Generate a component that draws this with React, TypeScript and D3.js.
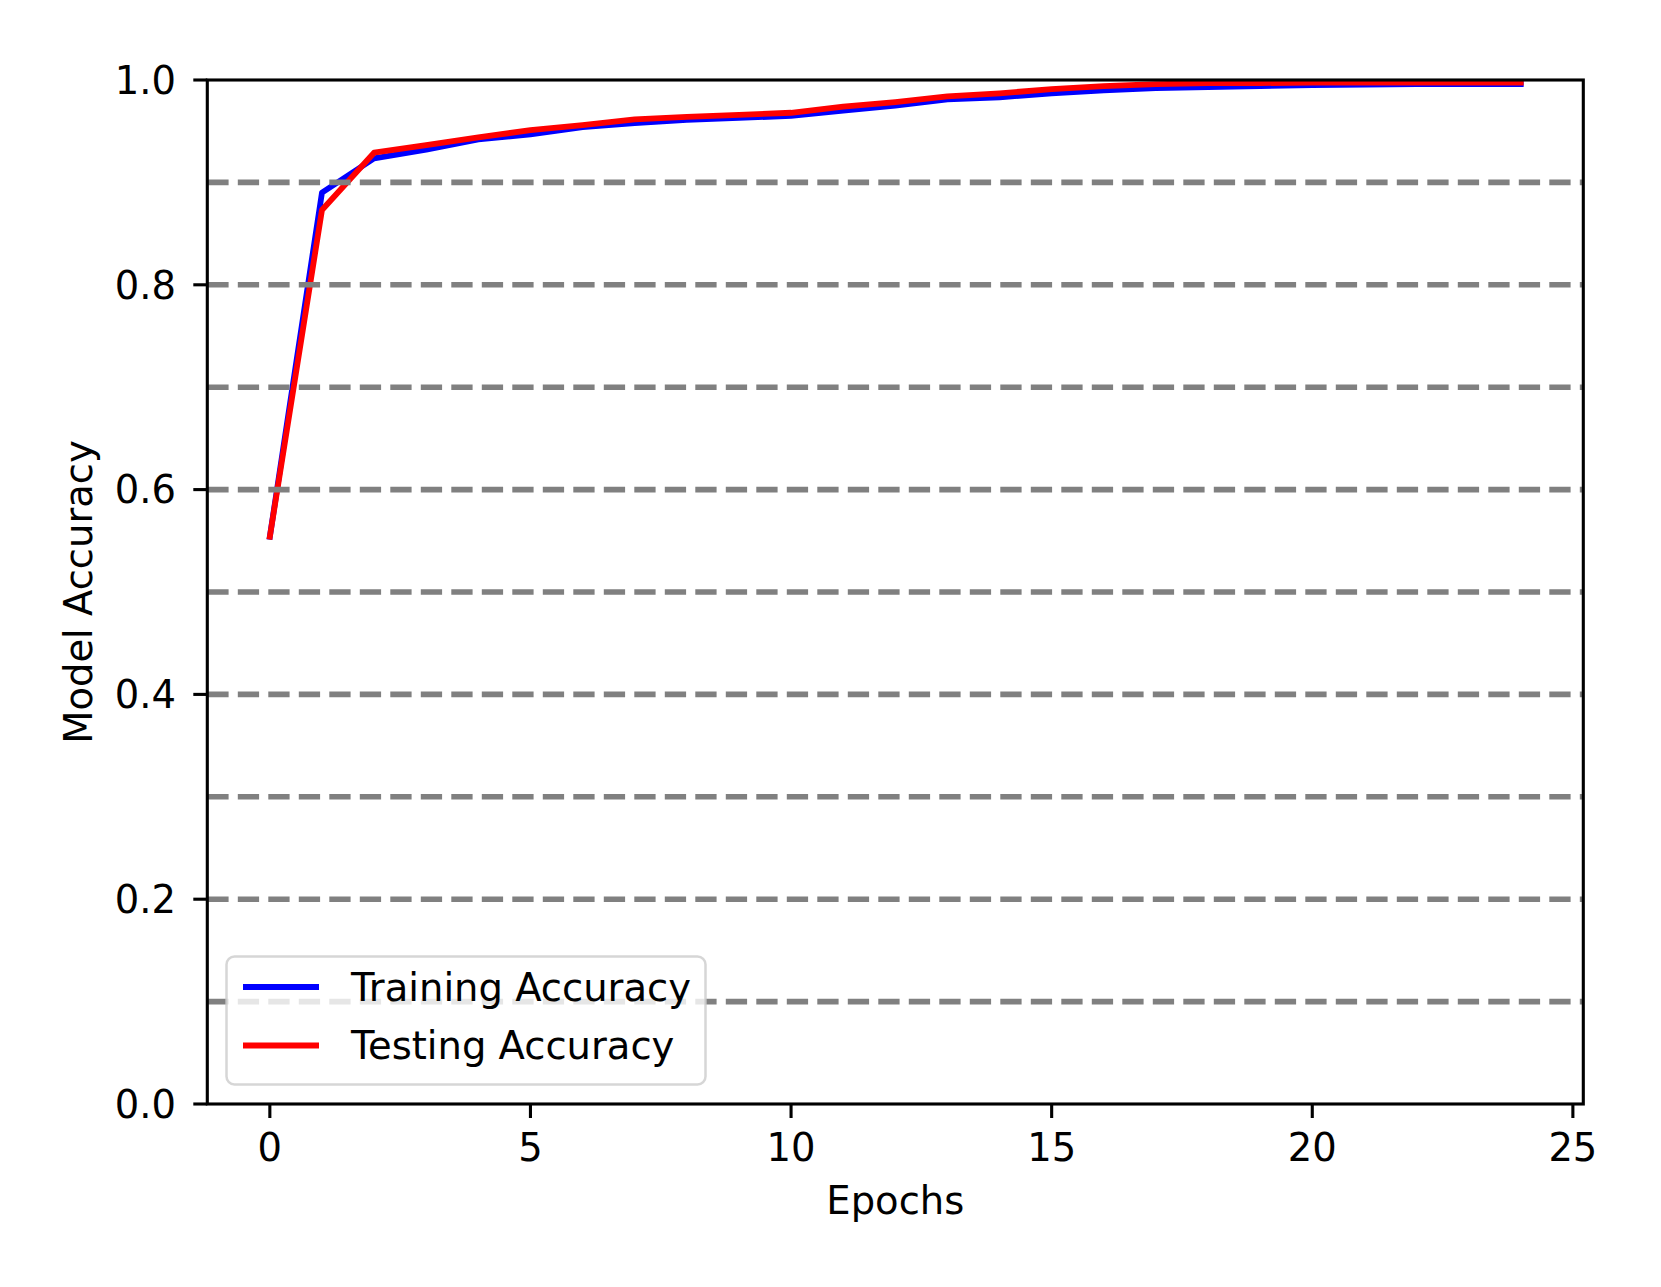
import React from "react";
import * as d3 from "d3";

const epochs: number[] = d3.range(0, 25);
const trainingAccuracy: number[] = [
  0.554, 0.89, 0.9235, 0.932, 0.942, 0.947, 0.954, 0.958, 0.961, 0.963, 0.965,
  0.97, 0.975, 0.981, 0.983, 0.987, 0.99, 0.992, 0.993, 0.994, 0.995, 0.9955,
  0.996, 0.996, 0.996,
];
const testingAccuracy: number[] = [
  0.554, 0.873, 0.929, 0.9365, 0.944, 0.951, 0.956, 0.9615, 0.964, 0.966, 0.968,
  0.974, 0.9785, 0.984, 0.987, 0.991, 0.994, 0.996, 0.997, 0.997, 0.9975, 0.9975,
  0.9975, 0.9975, 0.9975,
];
const xTicks: number[] = [0, 5, 10, 15, 20, 25];
const yTicks: number[] = [0, 0.2, 0.4, 0.6, 0.8, 1.0];
const refLines: number[] = [0.1, 0.2, 0.3, 0.4, 0.5, 0.6, 0.7, 0.8, 0.9];
const seriesNames: string[] = ["Training Accuracy", "Testing Accuracy"];
const seriesColors: string[] = ["#0000ff", "#ff0000"];

const W = 1661;
const H = 1287;
const L = 207.3;
const R = 1583.3;
const T = 80;
const B = 1104;
const FONT = "DejaVu Sans, sans-serif";
const FS = 38.5;

export default function App() {
  const x = d3.scaleLinear().domain([-1.2, 25.2]).range([L, R]);
  const y = d3.scaleLinear().domain([0, 1]).range([B, T]);
  const line = d3
    .line<number>()
    .x((_, i) => x(epochs[i]))
    .y((d) => y(d));
  const series = [trainingAccuracy, testingAccuracy];

  const legX = 226.5;
  const legY = 956.5;
  const legW = 479;
  const legH = 128;
  const rowY = [987, 1045.5];

  return (
    <svg
      width={W}
      height={H}
      style={{ position: "absolute", left: 0, top: 0, background: "#fff" }}
      fontFamily={FONT}
    >
      <rect x={0} y={0} width={W} height={H} fill="#fff" />
      <defs>
        <clipPath id="plot">
          <rect x={L} y={T} width={R - L} height={B - T} />
        </clipPath>
      </defs>
      <g clipPath="url(#plot)">
        {series.map((s, i) => (
          <path
            key={i}
            d={line(s) || ""}
            fill="none"
            stroke={seriesColors[i]}
            strokeWidth={5.8}
            strokeLinejoin="round"
            strokeLinecap="square"
          />
        ))}
        {refLines.map((v) => (
          <line
            key={v}
            x1={L}
            x2={R}
            y1={y(v)}
            y2={y(v)}
            stroke="#808080"
            strokeWidth={5.6}
            strokeDasharray="21.3 9.2"
          />
        ))}
      </g>
      {/* spines */}
      <rect x={L} y={T} width={R - L} height={B - T} fill="none" stroke="#000" strokeWidth={3.1} />
      {/* x ticks */}
      {xTicks.map((t) => (
        <g key={t}>
          <line x1={x(t)} x2={x(t)} y1={B} y2={B + 14} stroke="#000" strokeWidth={3.1} />
          <text x={x(t)} y={1161} textAnchor="middle" fontSize={FS} fill="#000">
            {d3.format("d")(t)}
          </text>
        </g>
      ))}
      {/* y ticks */}
      {yTicks.map((t) => (
        <g key={t}>
          <line x1={L - 14} x2={L} y1={y(t)} y2={y(t)} stroke="#000" strokeWidth={3.1} />
          <text x={176} y={y(t) + 13.8} textAnchor="end" fontSize={FS} fill="#000">
            {d3.format(".1f")(t)}
          </text>
        </g>
      ))}
      <text x={(L + R) / 2} y={1214} textAnchor="middle" fontSize={FS} fill="#000">
        Epochs
      </text>
      <text
        transform={`translate(92,${(T + B) / 2}) rotate(-90)`}
        textAnchor="middle"
        fontSize={FS}
        fill="#000"
      >
        Model Accuracy
      </text>
      {/* legend */}
      <rect
        x={legX}
        y={legY}
        width={legW}
        height={legH}
        rx={8}
        ry={8}
        fill="#fff"
        fillOpacity={0.8}
        stroke="#cccccc"
        strokeOpacity={0.8}
        strokeWidth={2.5}
      />
      {seriesNames.map((name, i) => (
        <g key={name}>
          <line
            x1={243}
            x2={319}
            y1={rowY[i]}
            y2={rowY[i]}
            stroke={seriesColors[i]}
            strokeWidth={5.8}
            strokeLinecap="butt"
          />
          <text x={351} y={rowY[i] + 13.5} fontSize={FS} fill="#000">
            {name}
          </text>
        </g>
      ))}
    </svg>
  );
}
